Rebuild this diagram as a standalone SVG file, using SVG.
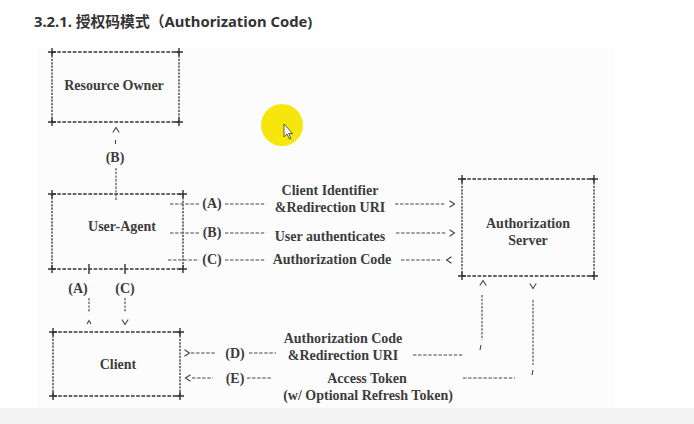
<svg xmlns="http://www.w3.org/2000/svg" width="694" height="424" viewBox="0 0 694 424">
<style>
.t{font-family:"Liberation Serif","Times New Roman",serif;font-weight:bold;font-size:14px;fill:#3c3c3c;text-anchor:middle}
.title{font-family:"Noto Sans","Noto Sans CJK SC",sans-serif;font-weight:bold;font-size:14.8px;fill:#333}
.h{fill:none;stroke:#333;stroke-width:1.3;stroke-dasharray:3.6 1.6}
.v{fill:none;stroke:#333;stroke-width:1.3;stroke-dasharray:2.2 1.2}
.c{fill:none;stroke:#333;stroke-width:1.4}
.d{fill:none;stroke:#444;stroke-width:1.2;stroke-dasharray:3.4 1.7}
.dv{fill:none;stroke:#444;stroke-width:1.1;stroke-dasharray:2.4 1.3}
.ah{fill:none;stroke:#444;stroke-width:1.1}
</style>
<defs>
<path id="chev" class="ah" d="M-2.5,-3.2 L2.5,0 L-2.5,3.2"/>
<path id="plus" class="c" d="M-4,0 H4 M0,-4 V4"/>
</defs>
<rect width="694" height="424" fill="#ffffff"/>
<rect x="37" y="48" width="578" height="360" fill="#fcfcfc"/>
<rect x="0" y="408" width="694" height="16" fill="#f3f3f3"/>
<text class="title" x="34" y="27">3.2.1. 授权码模式（Authorization Code)</text>

<g id="resource-owner">
<path class="h" d="M52,52 H179 M52,122 H179"/>
<path class="v" d="M52,52 V122 M179,52 V122"/>
<use href="#plus" x="52" y="52"/><use href="#plus" x="179" y="52"/><use href="#plus" x="52" y="122"/><use href="#plus" x="179" y="122"/>
<text class="t" x="114" y="90">Resource Owner</text>
</g>

<g id="user-agent">
<path class="h" d="M52,194 H183 M52,269 H183"/>
<path class="v" d="M52,194 V269 M183,194 V269"/>
<use href="#plus" x="52" y="194"/><use href="#plus" x="183" y="194"/><use href="#plus" x="52" y="269"/><use href="#plus" x="183" y="269"/>
<text class="t" x="122" y="231">User-Agent</text>
</g>

<g id="authorization-server">
<path class="h" d="M462,179 H594 M462,276 H594"/>
<path class="v" d="M462,179 V276 M594,179 V276"/>
<use href="#plus" x="462" y="179"/><use href="#plus" x="594" y="179"/><use href="#plus" x="462" y="276"/><use href="#plus" x="594" y="276"/>
<text class="t" x="528" y="228">Authorization</text>
<text class="t" x="528" y="245">Server</text>
</g>

<g id="client">
<path class="h" d="M53,332 H180 M53,396 H180"/>
<path class="v" d="M53,332 V396 M180,332 V396"/>
<use href="#plus" x="53" y="332"/><use href="#plus" x="180" y="332"/><use href="#plus" x="53" y="396"/><use href="#plus" x="180" y="396"/>
<text class="t" x="118" y="369">Client</text>
</g>

<g id="connectors">
<!-- B: user-agent to resource owner -->
<use href="#chev" transform="translate(116,130) rotate(-90)"/>
<path class="ah" d="M115.5,140 V144"/>
<text class="t" x="115" y="162">(B)</text>
<path class="dv" d="M116,168 V201"/>

<!-- row A -->
<path class="d" d="M170,204 H199 M225,204 H266 M395,204 H446"/>
<use href="#chev" x="452" y="204"/>
<text class="t" x="212" y="208">(A)</text>
<text class="t" x="330" y="195">Client Identifier</text>
<text class="t" x="330" y="212">&amp;Redirection URI</text>

<!-- row B -->
<path class="d" d="M170,233 H199 M225,233 H266 M396,233 H446"/>
<use href="#chev" x="452" y="233"/>
<text class="t" x="212" y="237">(B)</text>
<text class="t" x="330" y="241">User authenticates</text>

<!-- row C -->
<path class="d" d="M168,260 H199 M225,260 H266 M401,260 H442"/>
<use href="#chev" transform="translate(449,260) rotate(180)"/>
<text class="t" x="212" y="264">(C)</text>
<text class="t" x="332" y="264">Authorization Code</text>

<!-- user-agent to client A / C -->
<path class="c" d="M89,264 V274 M125,264 V274"/>
<text class="t" x="78" y="293">(A)</text>
<text class="t" x="125" y="293">(C)</text>
<path class="dv" d="M89,298 V312 M125,298 V312"/>
<path class="ah" d="M87,324 L89,320.5 L91,324"/>
<use href="#chev" transform="translate(125,322) rotate(90)"/>

<!-- row D -->
<use href="#chev" transform="translate(187,353)"/>
<path class="d" d="M191,353 H215 M249,353 H276 M413,355 H463"/>
<text class="t" x="235" y="358">(D)</text>
<text class="t" x="343" y="343">Authorization Code</text>
<text class="t" x="343" y="360">&amp;Redirection URI</text>
<path class="ah" d="M481,345 L480,350"/>
<path class="dv" d="M482,295 V340"/>
<use href="#chev" transform="translate(483,283) rotate(-90)"/>

<!-- row E -->
<use href="#chev" transform="translate(188,378) rotate(180)"/>
<path class="d" d="M192,378 H213 M247,378 H272 M463,378 H515"/>
<text class="t" x="235" y="383">(E)</text>
<text class="t" x="367" y="383">Access Token</text>
<text class="t" x="368" y="400">(w/ Optional Refresh Token)</text>
<path class="ah" d="M533,370 L532,375"/>
<path class="dv" d="M533,300 V365"/>
<use href="#chev" transform="translate(533,286) rotate(90)"/>
</g>

<g id="cursor-highlight">
<circle cx="282" cy="125" r="21" fill="#f6e60c"/>
<path d="M284,124 V137 L287,134 L289.5,139 L291,138.3 L288.7,133.5 L292.5,133.5 Z" fill="#fff" stroke="#333" stroke-width="0.8"/>
</g>
</svg>
